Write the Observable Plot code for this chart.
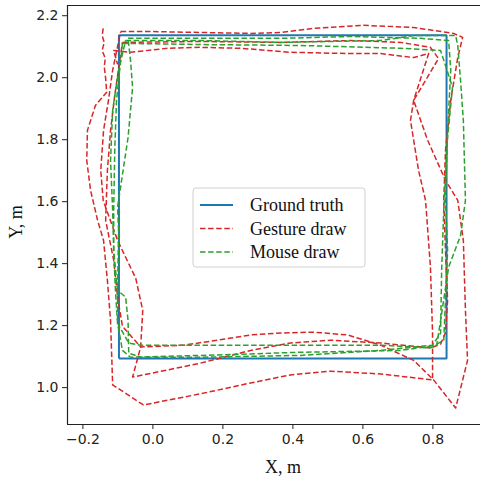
<!DOCTYPE html>
<html><head><meta charset="utf-8">
<script src="https://cdn.jsdelivr.net/npm/d3@7"></script>
<script src="https://cdn.jsdelivr.net/npm/@observablehq/plot@0.6"></script>
<style>body{margin:0;background:#fff}#chart{width:480px;height:478px}</style>
</head><body><div id="chart"></div>
<script>
// Axis setup
const xDomain = [-0.244, 0.936];
const yDomain = [0.881, 2.233];
const xTicks = [-0.2, 0.0, 0.2, 0.4, 0.6, 0.8];
const yTicks = [1.0, 1.2, 1.4, 1.6, 1.8, 2.0, 2.2];
const legendLabels = ["Ground truth", "Gesture draw", "Mouse draw"];
const seriesColors = ["#1f77b4", "#d62728", "#2ca02c"];

// Ground truth square
const truthX = [-0.097, -0.097, 0.839, 0.839, -0.097];
const truthY = [1.094, 2.137, 2.137, 1.094, 1.094];

// Gesture draw runs
const gestureX1 = [-0.142,-0.145,-0.139,-0.145,-0.136,-0.139,-0.135,-0.132,-0.164,-0.187,-0.189,-0.178,-0.158,-0.141,-0.130,-0.121,-0.115,-0.027,0.136,0.279,0.393,0.508,0.651,0.799,0.799,0.793,0.779,0.759,0.736,0.745,0.788,0.745,0.651,0.556,0.393,0.251,0.136,0.042,-0.064,-0.112,-0.101];
const gestureY1 = [2.159,2.136,2.114,2.088,2.062,2.036,1.998,1.953,1.911,1.830,1.733,1.636,1.540,1.475,1.346,1.217,1.009,0.944,0.980,1.015,1.041,1.053,1.044,1.025,1.176,1.389,1.604,1.701,1.862,1.927,2.078,2.065,2.078,2.078,2.082,2.095,2.098,2.095,2.082,2.088,2.043];
const gestureX2 = [-0.092,-0.007,0.136,0.279,0.365,0.459,0.602,0.745,0.859,0.885,0.871,0.851,0.836,0.831,0.836,0.842,0.836,0.822,0.793,0.651,0.508,0.393,0.279,0.136,-0.058,-0.035,-0.029,-0.049,-0.101,-0.142,-0.149,-0.141,-0.127,-0.115,-0.092];
const gestureY2 = [2.149,2.149,2.146,2.143,2.146,2.159,2.169,2.162,2.143,2.130,2.065,1.927,1.765,1.604,1.443,1.282,1.178,1.140,1.128,1.144,1.153,1.144,1.120,1.079,1.034,1.131,1.249,1.353,1.475,1.604,1.701,1.830,1.927,2.024,2.149];
const gestureX3 = [-0.087,0.136,0.365,0.565,0.708,0.793,0.816,0.779,0.745,0.785,0.836,0.871,0.887,0.893,0.899,0.865,0.802,0.745,0.651,0.556,0.459,0.365,0.279,0.185,0.088,-0.035,-0.087,-0.101,-0.112,-0.135,-0.130,-0.121,-0.109,-0.087];
const gestureY3 = [2.114,2.117,2.114,2.120,2.114,2.098,2.062,1.991,1.927,1.798,1.669,1.604,1.475,1.249,1.088,0.934,1.025,1.088,1.137,1.170,1.179,1.176,1.170,1.153,1.137,1.131,1.198,1.292,1.411,1.540,1.701,1.830,1.943,2.114];

// Mouse draw runs
const mouseX1 = [-0.078,0.136,0.365,0.651,0.745,0.865,0.871,0.879,0.887,0.893,0.879,0.845,0.822,0.811,0.708,0.422,0.136,-0.064,-0.087,-0.101,-0.107,-0.112,-0.115,-0.121,-0.115,-0.098,-0.078];
const mouseY1 = [2.120,2.120,2.114,2.120,2.136,2.136,2.104,1.991,1.862,1.604,1.491,1.389,1.217,1.137,1.120,1.114,1.104,1.098,1.120,1.208,1.314,1.443,1.572,1.733,1.895,2.024,2.120];
const mouseX2 = [-0.087,0.136,0.422,0.708,0.822,0.856,0.842,0.831,0.825,0.822,0.799,0.651,0.422,0.136,-0.035,-0.069,-0.071,-0.078,-0.101,-0.112,-0.112,-0.109,-0.104,-0.087];
const mouseY2 = [2.111,2.107,2.104,2.095,2.088,1.969,1.807,1.572,1.379,1.176,1.137,1.120,1.104,1.098,1.098,1.111,1.217,1.292,1.314,1.443,1.572,1.765,1.927,2.111];
const mouseX3 = [-0.071,0.136,0.365,0.565,0.765,0.845,0.851,0.842,0.836,0.842,0.836,0.831,0.793,0.651,0.422,0.136,-0.035,-0.069,-0.101,-0.101,-0.098,-0.101,-0.071,-0.058,-0.064,-0.071];
const mouseY3 = [2.127,2.127,2.127,2.133,2.127,2.120,2.024,1.830,1.604,1.443,1.282,1.153,1.128,1.137,1.137,1.137,1.137,1.144,1.208,1.314,1.507,1.582,1.807,1.969,2.056,2.127];

function rows(xs, ys, run) { return xs.map((x, i) => ({x, y: ys[i], run})); }
const truth = rows(truthX, truthY, "t");
const gesture = [
  ...rows(gestureX1, gestureY1, "g1"),
  ...rows(gestureX2, gestureY2, "g2"),
  ...rows(gestureX3, gestureY3, "g3")
];
const mouse = [
  ...rows(mouseX1, mouseY1, "m1"),
  ...rows(mouseX2, mouseY2, "m2"),
  ...rows(mouseX3, mouseY3, "m3")
];
const fmt = d => d.toFixed(1).replace("-", "\u2212");
const dash = "5.5,2.6";

const plot = Plot.plot({
  width: 480, height: 478,
  marginLeft: 67, marginRight: 0, marginTop: 5, marginBottom: 54,
  style: {background: "#fff", fontFamily: "DejaVu Sans", fontSize: "14px", color: "#222"},
  x: {domain: xDomain},
  y: {domain: yDomain},
  marks: [
    Plot.line(truth, {x: "x", y: "y", stroke: seriesColors[0], strokeWidth: 2, strokeLinecap: "butt", strokeLinejoin: "miter"}),
    Plot.line(gesture, {x: "x", y: "y", z: "run", stroke: seriesColors[1], strokeWidth: 1.5, strokeDasharray: dash, strokeLinecap: "butt"}),
    Plot.line(mouse, {x: "x", y: "y", z: "run", stroke: seriesColors[2], strokeWidth: 1.5, strokeDasharray: dash, strokeLinecap: "butt"}),
    Plot.ruleX([xDomain[0]], {stroke: "#222", strokeWidth: 1.2}),
    Plot.ruleY([yDomain[0], yDomain[1]], {stroke: "#222", strokeWidth: 1.2}),
    Plot.axisX(xTicks, {tickSize: 5, tickPadding: 5, tickFormat: fmt, label: null, fontSize: 14, stroke: "#222"}),
    Plot.axisY(yTicks, {tickSize: 5, tickPadding: 4, tickFormat: fmt, label: null, fontSize: 14, stroke: "#222"})
  ]
});
document.getElementById("chart").appendChild(plot);

const svg = d3.select(plot);
const serif = "'Liberation Serif', 'Times New Roman', serif";
svg.append("text").attr("x", 283).attr("y", 467).attr("text-anchor", "middle")
  .attr("dominant-baseline", "central").attr("font-family", serif).attr("font-size", 18)
  .attr("fill", "#111").text("X, m");
svg.append("text").attr("transform", "translate(16,222) rotate(-90)").attr("text-anchor", "middle")
  .attr("dominant-baseline", "central").attr("font-family", serif).attr("font-size", 18)
  .attr("fill", "#111").text("Y, m");

const lg = svg.append("g");
lg.append("rect").attr("x", 193).attr("y", 188).attr("width", 172).attr("height", 79).attr("rx", 3)
  .attr("fill", "#fff").attr("fill-opacity", 0.8).attr("stroke", "#d0d0d0");
legendLabels.forEach((lab, i) => {
  const yy = 205 + i * 23.5;
  lg.append("line").attr("x1", 200).attr("x2", 233).attr("y1", yy).attr("y2", yy)
    .attr("stroke", seriesColors[i]).attr("stroke-width", i === 0 ? 2 : 1.5)
    .attr("stroke-dasharray", i === 0 ? null : dash);
  lg.append("text").attr("x", 250).attr("y", yy).attr("text-anchor", "start")
    .attr("dominant-baseline", "central")
    .attr("font-family", serif).attr("font-size", 18).attr("fill", "#111").text(lab);
});
</script></body></html>
